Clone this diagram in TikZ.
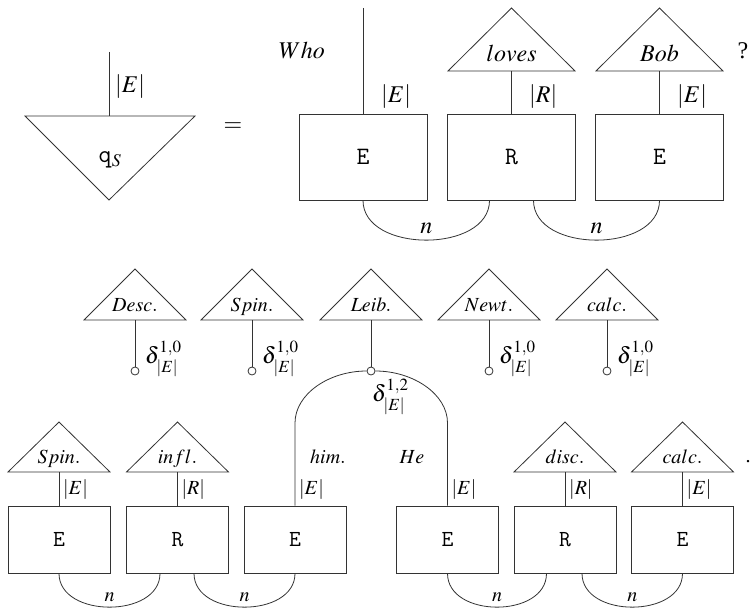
\documentclass[tikz,border=0pt]{standalone}
\usepackage{mathptmx}
\usepackage{fontspec}
\setmainfont{Liberation Serif}
\newcommand\mytri[5]{% name, cx, apex y, base y, half width
  \draw[ln] (#2-#5,#4) -- (#2,#3) -- (#2+#5,#4) -- cycle;
  \coordinate (#1) at (#2,#4);}
\begin{document}
\begin{tikzpicture}[x=1pt,y=-1pt,
  ln/.style={draw=black!80, line width=0.8pt},
  bigbox/.style={ln, rectangle, minimum width=128pt, minimum height=86pt, inner sep=0pt, font=\fontsize{25}{27}\selectfont\ttfamily},
  smallbox/.style={ln, rectangle, minimum width=102pt, minimum height=67pt, inner sep=0pt, font=\fontsize{23}{25}\selectfont\ttfamily},
  bigtxt/.style={inner sep=0pt, font=\fontsize{24}{27}\selectfont},
  smalltxt/.style={inner sep=0pt, font=\fontsize{20}{23}\selectfont},
  deltxt/.style={inner sep=0pt, font=\fontsize{23}{26}\selectfont},
  dot/.style={ln, circle, fill=white, minimum size=8pt, inner sep=0pt},
]
\useasboundingbox (0,0) rectangle (751,607);

% ---------- top equation ----------
\draw[ln] (25,116) -- (195,116) -- (109,200) -- cycle;
\coordinate (qTop) at (109,116);
\coordinate (qEnd) at (109,52);
\draw[ln] (qEnd) -- (qTop);
\node[bigtxt, anchor=west] (qE) at (115,87) {$|E|$};
\node[bigtxt] (qs) at (110,160) {{\fontsize{25}{27}\selectfont\texttt{q}}$_S$};
\node[bigtxt] (eq) at (233,127) {$=$};

\node[bigtxt, anchor=base] (who) at (302,59) {$Who$};
\node[bigtxt, anchor=base] (qm) at (743,59) {?};

\node[bigbox] (b1) at (363,157) {E};
\node[bigbox] (b2) at (511.5,157) {R};
\node[bigbox] (b3) at (659.5,157) {E};

\coordinate (whoEnd) at (363,8);
\draw[ln] (whoEnd) -- (b1.north);
\node[bigtxt, anchor=west] (l1) at (381,97) {$|E|$};

\mytri{tLoves}{511.5}{8}{71}{63.5}
\node[bigtxt, anchor=base] (loves) at (511.5,62) {$loves$};
\draw[ln] (tLoves) -- (b2.north);
\node[bigtxt, anchor=west] (l2) at (529,97) {$|R|$};

\mytri{tBob}{659.5}{8}{71}{63.5}
\node[bigtxt, anchor=base] (bob) at (659.5,62) {$Bob$};
\draw[ln] (tBob) -- (b3.north);
\node[bigtxt, anchor=west] (l3) at (677,97) {$|E|$};

\draw[ln] (b1.south) .. controls +(0,53) and +(0,53) .. ([xshift=-22pt]b2.south)
  node[bigtxt, pos=0.5, anchor=base, yshift=7pt] (n1) {$n$};
\draw[ln] ([xshift=22pt]b2.south) .. controls +(0,53) and +(0,53) .. (b3.south)
  node[bigtxt, pos=0.5, anchor=base, yshift=7pt] (n2) {$n$};

% ---------- middle: determiners / delta nodes ----------
\foreach \nm/\cx/\txt in {Desc/135/Desc., Spin/252/Spin., Leib/371/Leib., Newt/489/Newt., calc/607/calc.}{
  \mytri{t\nm}{\cx}{269}{320}{51}
  \node[smalltxt, anchor=base] (w\nm) at (\cx,311) {$\txt$};
  \node[dot] (c\nm) at (\cx,371) {};
  \draw[ln] (t\nm) -- (c\nm);
}
\foreach \nm/\cx in {Desc/135, Spin/252, Newt/489, calc/607}{
  \node[deltxt, anchor=north west] (d\nm) at (\cx+10,341) {$\delta^{1,0}_{|E|}$};
}
\node[deltxt, anchor=north west] (dLeib) at (372,379) {$\delta^{1,2}_{|E|}$};

% ---------- bottom sentence ----------
\node[smallbox] (s1) at (59,539.5) {E};
\node[smallbox] (s2) at (177.5,539.5) {R};
\node[smallbox] (s3) at (295,539.5) {E};
\node[smallbox] (s4) at (447.5,539.5) {E};
\node[smallbox] (s5) at (565,539.5) {R};
\node[smallbox] (s6) at (682.5,539.5) {E};

\mytri{tSpinB}{59}{422}{472}{51}
\node[smalltxt, anchor=base] (wSpinB) at (59,463) {$Spin.$};
\draw[ln] (tSpinB) -- (s1.north);
\node[smalltxt, anchor=west] (m1) at (63,490) {$|E|$};

\mytri{tInfl}{177.5}{422}{472}{51}
\node[smalltxt, anchor=base] (wInfl) at (177.5,463) {$infl.$};
\draw[ln] (tInfl) -- (s2.north);
\node[smalltxt, anchor=west] (m2) at (181.5,490) {$|R|$};

\node[smalltxt, anchor=base] (him) at (328,463) {$him.$};
\node[smalltxt, anchor=west] (m3) at (299,490) {$|E|$};
\node[smalltxt, anchor=base] (he) at (412,463) {$He$};
\node[smalltxt, anchor=west] (m4) at (451.5,490) {$|E|$};

\draw[ln] (s3.north) -- (295,423) .. controls (295,394) and (329,371) .. (cLeib.west);
\draw[ln] (s4.north) -- (447.5,423) .. controls (447.5,394) and (413,371) .. (cLeib.east);

\mytri{tDisc}{565}{422}{472}{51}
\node[smalltxt, anchor=base] (wDisc) at (565,463) {$disc.$};
\draw[ln] (tDisc) -- (s5.north);
\node[smalltxt, anchor=west] (m5) at (569,490) {$|R|$};

\mytri{tCalcB}{682.5}{422}{472}{51}
\node[smalltxt, anchor=base] (wCalcB) at (682.5,463) {$calc.$};
\draw[ln] (tCalcB) -- (s6.north);
\node[smalltxt, anchor=west] (m6) at (686.5,490) {$|E|$};

\node[smalltxt, anchor=base] (per) at (748,462) {.};

\draw[ln] (s1.south) .. controls +(0,45) and +(0,45) .. ([xshift=-17.5pt]s2.south)
  node[smalltxt, pos=0.5, anchor=base, yshift=6pt] (n3) {$n$};
\draw[ln] ([xshift=16.5pt]s2.south) .. controls +(0,45) and +(0,45) .. (s3.south)
  node[smalltxt, pos=0.5, anchor=base, yshift=6pt] (n4) {$n$};
\draw[ln] (s4.south) .. controls +(0,45) and +(0,45) .. ([xshift=-18.5pt]s5.south)
  node[smalltxt, pos=0.5, anchor=base, yshift=6pt] (n5) {$n$};
\draw[ln] ([xshift=17pt]s5.south) .. controls +(0,45) and +(0,45) .. (s6.south)
  node[smalltxt, pos=0.5, anchor=base, yshift=6pt] (n6) {$n$};
\end{tikzpicture}
\end{document}
